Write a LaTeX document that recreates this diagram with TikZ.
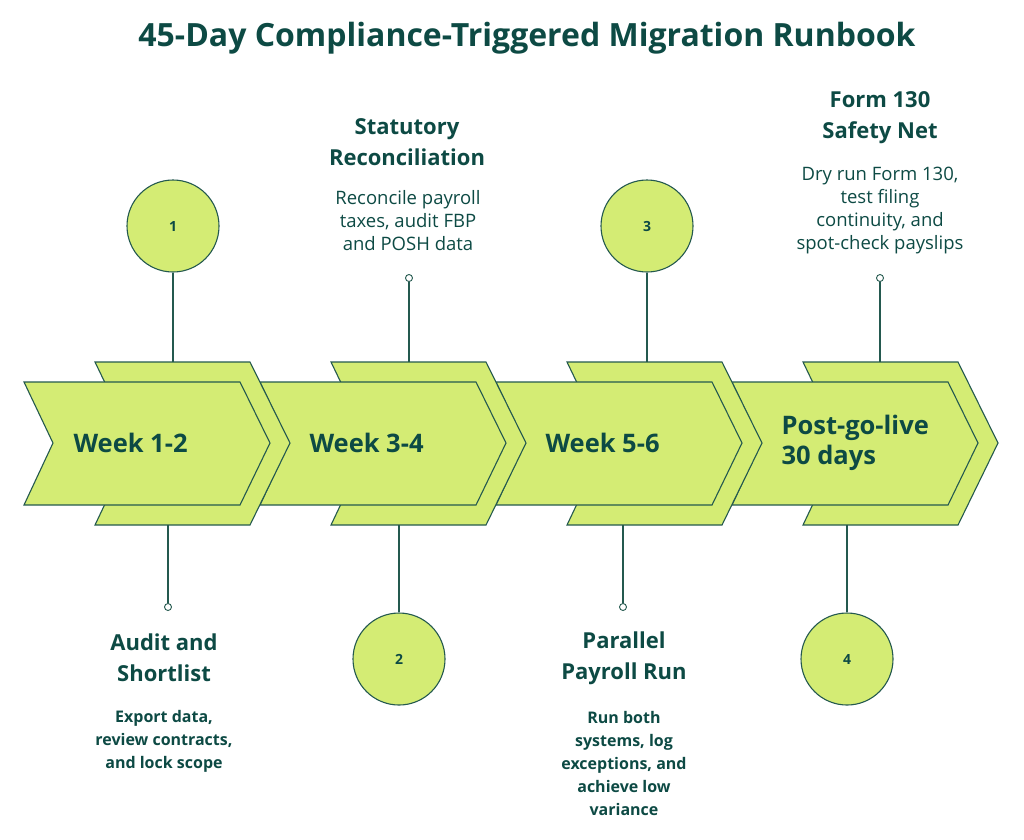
\documentclass[tikz,border=0pt]{standalone}
\usepackage{fontspec}
\setmainfont{Open Sans}[BoldFont={Open Sans Bold}]
\begin{document}
\definecolor{dk}{HTML}{0D4A44}
\definecolor{ln}{HTML}{24594F}
\definecolor{gr}{HTML}{D4EC74}
\begin{tikzpicture}[x=1pt,y=-1pt,
  shp/.style={fill=gr,draw=ln,line width=1.1pt,line join=miter},
  circ/.style={circle,fill=gr,draw=ln,line width=1.1pt,minimum size=92pt,inner sep=0pt,font=\bfseries\fontsize{14}{16}\selectfont,text=dk},
  dot/.style={circle,draw=ln,fill=white,line width=0.9pt,minimum size=7pt,inner sep=0pt},
  wk/.style={font=\bfseries\fontsize{25.5}{30}\selectfont,text=dk,anchor=west,align=left},
  hd/.style={font=\bfseries\fontsize{22}{31}\selectfont,text=dk,align=center},
  bd/.style={font=\fontsize{18.5}{23}\selectfont,text=dk,align=center},
  bdb/.style={font=\bfseries\fontsize{16}{23}\selectfont,text=dk,align=center},
  conn/.style={draw=ln,line width=1.1pt}]
\useasboundingbox (0,0) rectangle (1024,839);
\node[font=\bfseries\fontsize{32}{36}\selectfont,text=dk] (title) at (527,38) {45-Day Compliance-Triggered Migration Runbook};
% stages right to left
\foreach \k in {3,2,1,0}{
  \begin{scope}[xshift=236*\k]
    \path[shp] (95,362) -- (250,362) -- (290,443) -- (250,525) -- (95,525) -- (134,443) -- cycle;
    \path[shp] (24,382) -- (240,382) -- (270,443) -- (240,505) -- (24,505) -- (53,443) -- cycle;
  \end{scope}
}
\node[wk] (w1) at (70,443) {Week 1-2};
\node[wk] (w2) at (306,443) {Week 3-4};
\node[wk] (w3) at (542,443) {Week 5-6};
\node[wk] (w4) at (778,443) {Post-go-live\\30 days};
% connector anchors
\coordinate (a1) at (173,362);
\coordinate (a1b) at (168,525);
\coordinate (a2) at (409,362);
\coordinate (a2b) at (399,525);
\coordinate (a3) at (647,362);
\coordinate (a3b) at (623,525);
\coordinate (a4) at (880,362);
\coordinate (a4b) at (847,525);
% circles
\node[circ] (c1) at (173,226) {1};
\node[circ] (c2) at (399,659) {2};
\node[circ] (c3) at (647,226) {3};
\node[circ] (c4) at (847,659) {4};
\draw[conn] (c1) -- (a1);
\draw[conn] (c3) -- (a3);
\draw[conn] (c2) -- (a2b);
\draw[conn] (c4) -- (a4b);
% dots
\node[dot] (d1) at (168,607) {};
\node[dot] (d2) at (409,278) {};
\node[dot] (d3) at (623,607) {};
\node[dot] (d4) at (880,278) {};
\draw[conn] (d1) -- (a1b);
\draw[conn] (d2) -- (a2);
\draw[conn] (d3) -- (a3b);
\draw[conn] (d4) -- (a4);
% texts
\node[hd] (h1) at (164,658) {Audit and\\Shortlist};
\node[bdb] (b1) at (164,741) {Export data,\\review contracts,\\and lock scope};
\node[hd] (h2) at (407,142) {Statutory\\Reconciliation};
\node[bd] (b2) at (408,221) {Reconcile payroll\\taxes, audit FBP\\and POSH data};
\node[hd] (h3) at (624,658) {Parallel\\Payroll Run};
\node[bdb] (b3) at (624,763) {Run both\\systems, log\\exceptions, and\\achieve low\\variance};
\node[hd] (h4) at (880,118) {Form 130\\Safety Net};
\node[bd] (b4) at (880,211) {Dry run Form 130,\\test filing\\continuity, and\\spot-check payslips};
\end{tikzpicture}
\end{document}
